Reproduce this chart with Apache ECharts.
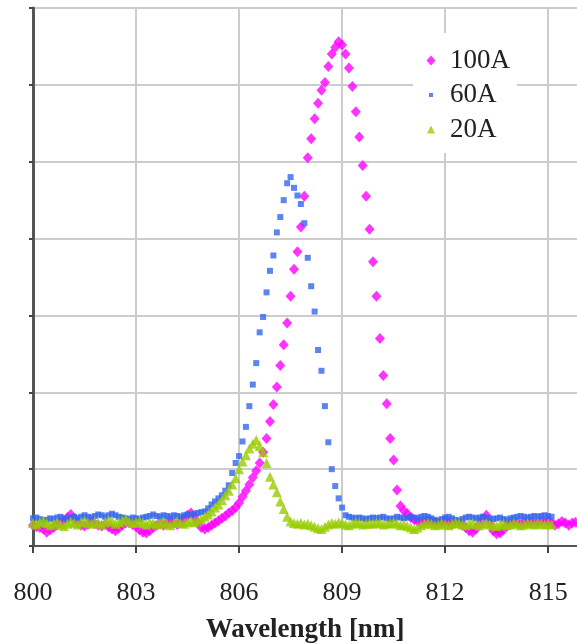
<!DOCTYPE html>
<html>
<head>
<meta charset="utf-8">
<script src="https://cdn.jsdelivr.net/npm/echarts@6/dist/echarts.min.js"></script>
<style>
html,body{margin:0;padding:0;background:#fff;}
#chart{width:577px;height:644px;}
</style>
</head>
<body>
<div id="chart"></div>
<script>
// Wavelength grid (nm)
const wavelengths = [
800.0,800.1,800.2,800.3,800.4,800.5,800.6,800.7,800.8,800.9,
801.0,801.1,801.2,801.3,801.4,801.5,801.6,801.7,801.8,801.9,
802.0,802.1,802.2,802.3,802.4,802.5,802.6,802.7,802.8,802.9,
803.0,803.1,803.2,803.3,803.4,803.5,803.6,803.7,803.8,803.9,
804.0,804.1,804.2,804.3,804.4,804.5,804.6,804.7,804.8,804.9,
805.0,805.1,805.2,805.3,805.4,805.5,805.6,805.7,805.8,805.9,
806.0,806.1,806.2,806.3,806.4,806.5,806.6,806.7,806.8,806.9,
807.0,807.1,807.2,807.3,807.4,807.5,807.6,807.7,807.8,807.9,
808.0,808.1,808.2,808.3,808.4,808.5,808.6,808.7,808.8,808.9,
809.0,809.1,809.2,809.3,809.4,809.5,809.6,809.7,809.8,809.9,
810.0,810.1,810.2,810.3,810.4,810.5,810.6,810.7,810.8,810.9,
811.0,811.1,811.2,811.3,811.4,811.5,811.6,811.7,811.8,811.9,
812.0,812.1,812.2,812.3,812.4,812.5,812.6,812.7,812.8,812.9,
813.0,813.1,813.2,813.3,813.4,813.5,813.6,813.7,813.8,813.9,
814.0,814.1,814.2,814.3,814.4,814.5,814.6,814.7,814.8,814.9,
815.0,815.1,815.2,815.3,815.4,815.5,815.6,815.7,815.8
];

const seriesNames = ['100A', '60A', '20A'];

const intensity100A = [
0.27,0.25,0.24,0.22,0.18,0.21,0.24,0.27,0.30,0.33,
0.37,0.41,0.36,0.30,0.27,0.26,0.28,0.31,0.29,0.27,
0.26,0.28,0.25,0.22,0.20,0.23,0.27,0.30,0.31,0.28,
0.25,0.21,0.18,0.17,0.20,0.24,0.27,0.29,0.27,0.30,
0.32,0.30,0.28,0.31,0.35,0.40,0.43,0.38,0.30,0.24,
0.22,0.24,0.27,0.30,0.33,0.36,0.39,0.43,0.46,0.50,
0.56,0.64,0.72,0.80,0.89,0.98,1.08,1.22,1.40,1.62,
1.84,2.07,2.35,2.62,2.90,3.25,3.60,3.83,4.15,4.55,
5.05,5.30,5.56,5.76,5.93,6.03,6.24,6.40,6.49,6.56,
6.52,6.40,6.22,5.98,5.65,5.32,4.95,4.55,4.12,3.70,
3.25,2.70,2.22,1.85,1.40,1.12,0.73,0.52,0.46,0.42,
0.37,0.34,0.32,0.30,0.31,0.33,0.32,0.30,0.29,0.31,
0.33,0.31,0.28,0.30,0.29,0.27,0.24,0.20,0.18,0.22,
0.28,0.35,0.40,0.30,0.20,0.16,0.17,0.21,0.26,0.29,
0.31,0.30,0.28,0.30,0.32,0.31,0.29,0.30,0.32,0.31,
0.33,0.30,0.27,0.29,0.32,0.30,0.27,0.30,0.31
];

const intensity60A = [
0.36,0.37,0.35,0.33,0.34,0.36,0.35,0.37,0.38,0.36,
0.35,0.37,0.38,0.36,0.38,0.40,0.38,0.37,0.39,0.41,
0.40,0.38,0.40,0.42,0.40,0.38,0.37,0.36,0.35,0.37,
0.36,0.35,0.37,0.38,0.39,0.41,0.39,0.38,0.40,0.39,
0.38,0.40,0.39,0.38,0.40,0.41,0.40,0.42,0.43,0.44,
0.45,0.49,0.54,0.58,0.62,0.66,0.72,0.79,0.95,1.08,
1.17,1.36,1.55,1.82,2.10,2.38,2.78,2.98,3.30,3.58,
3.78,4.08,4.28,4.50,4.72,4.80,4.66,4.56,4.45,4.20,
3.75,3.38,3.05,2.55,2.28,1.82,1.35,1.00,0.78,0.62,
0.50,0.40,0.38,0.37,0.36,0.37,0.36,0.35,0.36,0.37,
0.36,0.37,0.38,0.36,0.35,0.36,0.38,0.37,0.36,0.37,
0.38,0.37,0.36,0.38,0.39,0.38,0.36,0.34,0.33,0.35,
0.37,0.38,0.36,0.34,0.33,0.35,0.37,0.38,0.37,0.36,
0.37,0.38,0.37,0.36,0.35,0.36,0.37,0.35,0.34,0.36,
0.37,0.38,0.39,0.38,0.37,0.38,0.39,0.38,0.39,0.40,
0.39,0.38,null,null,null,null,null,null,null
];

const intensity20A = [
0.30,0.28,0.31,0.33,0.30,0.27,0.29,0.31,0.28,0.26,
0.29,0.32,0.30,0.28,0.31,0.33,0.30,0.29,0.32,0.30,
0.28,0.31,0.34,0.32,0.29,0.31,0.33,0.35,0.32,0.30,
0.31,0.33,0.30,0.28,0.31,0.30,0.28,0.30,0.32,0.29,
0.27,0.30,0.32,0.30,0.29,0.31,0.33,0.31,0.33,0.35,
0.38,0.41,0.45,0.50,0.54,0.60,0.66,0.72,0.80,0.88,
1.00,1.10,1.18,1.27,1.33,1.38,1.30,1.22,1.08,0.90,
0.80,0.70,0.58,0.48,0.38,0.32,0.30,0.29,0.30,0.28,
0.29,0.27,0.25,0.23,0.22,0.25,0.28,0.30,0.29,0.31,
0.30,0.28,0.27,0.29,0.31,0.30,0.28,0.29,0.30,0.29,
0.31,0.30,0.28,0.29,0.30,0.31,0.29,0.27,0.28,0.26,
0.24,0.22,0.24,0.27,0.29,0.30,0.29,0.27,0.28,0.30,
0.28,0.27,0.29,0.31,0.30,0.28,0.27,0.29,0.30,0.28,
0.27,0.29,0.30,0.28,0.27,0.26,0.28,0.29,0.27,0.28,
0.30,0.29,0.27,0.28,0.30,0.29,0.28,0.30,0.29,0.28,
0.29,0.28,null,null,null,null,null,null,null
];

const xTickValues = [800, 803, 806, 809, 812, 815];

function pairs(vals) {
  const out = [];
  for (let i = 0; i < wavelengths.length; i++) {
    if (vals[i] !== null && vals[i] !== undefined) out.push([wavelengths[i], vals[i]]);
  }
  return out;
}

const FONT = '"Liberation Serif", "DejaVu Serif", serif';
const chart = echarts.init(document.getElementById('chart'), null, {renderer: 'canvas'});

chart.setOption({
  animation: false,
  backgroundColor: '#ffffff',
  grid: {left: 33, right: 0, top: 8, bottom: 98, containLabel: false, outerBoundsMode: 'none'},
  xAxis: {
    type: 'value',
    min: 800,
    max: 815.84,
    interval: 3,
    name: 'Wavelength [nm]',
    nameLocation: 'middle',
    nameGap: 71,
    nameTextStyle: {fontFamily: FONT, fontSize: 27, fontWeight: 'bold', color: '#222'},
    axisLine: {show: true, onZero: false, lineStyle: {color: '#555', width: 2}},
    axisTick: {show: true, inside: false, length: 7, lineStyle: {color: '#444', width: 2}},
    axisLabel: {
      fontFamily: FONT, fontSize: 26, color: '#222', margin: 34,
      showMaxLabel: false,
      formatter: function (v) { return xTickValues.indexOf(Math.round(v)) >= 0 ? String(Math.round(v)) : ''; }
    },
    splitLine: {show: true, showMaxLine: false, lineStyle: {color: '#cccccc', width: 2}}
  },
  yAxis: {
    type: 'value',
    min: 0,
    max: 7,
    interval: 1,
    axisLine: {show: true, lineStyle: {color: '#555', width: 3}},
    axisTick: {show: true, inside: false, length: 4, lineStyle: {color: '#444', width: 2}},
    axisLabel: {show: false},
    splitLine: {show: true, lineStyle: {color: '#cccccc', width: 2}}
  },
  legend: {
    orient: 'vertical',
    left: 413,
    top: 33,
    padding: [14, 7, 10, 8],
    itemGap: 7.5,
    itemWidth: 24,
    itemHeight: 12,
    backgroundColor: '#ffffff',
    textStyle: {fontFamily: FONT, fontSize: 27, color: '#222', lineHeight: 25},
    data: [
      {name: '100A', icon: 'path://M0,0 M24,12 M10,1 L14.5,6 L10,11 L5.5,6 Z'},
      {name: '60A', icon: 'path://M0,0 M24,12 M8,4 L12,4 L12,8 L8,8 Z'},
      {name: '20A', icon: 'path://M0,0 M24,12 M10,2 L14,10 L6,10 Z'}
    ]
  },
  series: [
    {
      name: seriesNames[0], type: 'scatter', symbol: 'diamond', symbolSize: [10, 11],
      itemStyle: {color: '#ff00ff'}, data: pairs(intensity100A)
    },
    {
      name: seriesNames[1], type: 'scatter', symbol: 'rect', symbolSize: 6,
      itemStyle: {color: '#3366ee'}, data: pairs(intensity60A)
    },
    {
      name: seriesNames[2], type: 'scatter', symbol: 'triangle', symbolSize: 10,
      itemStyle: {color: '#99cc00'}, data: pairs(intensity20A)
    }
  ]
});
</script>
</body>
</html>
